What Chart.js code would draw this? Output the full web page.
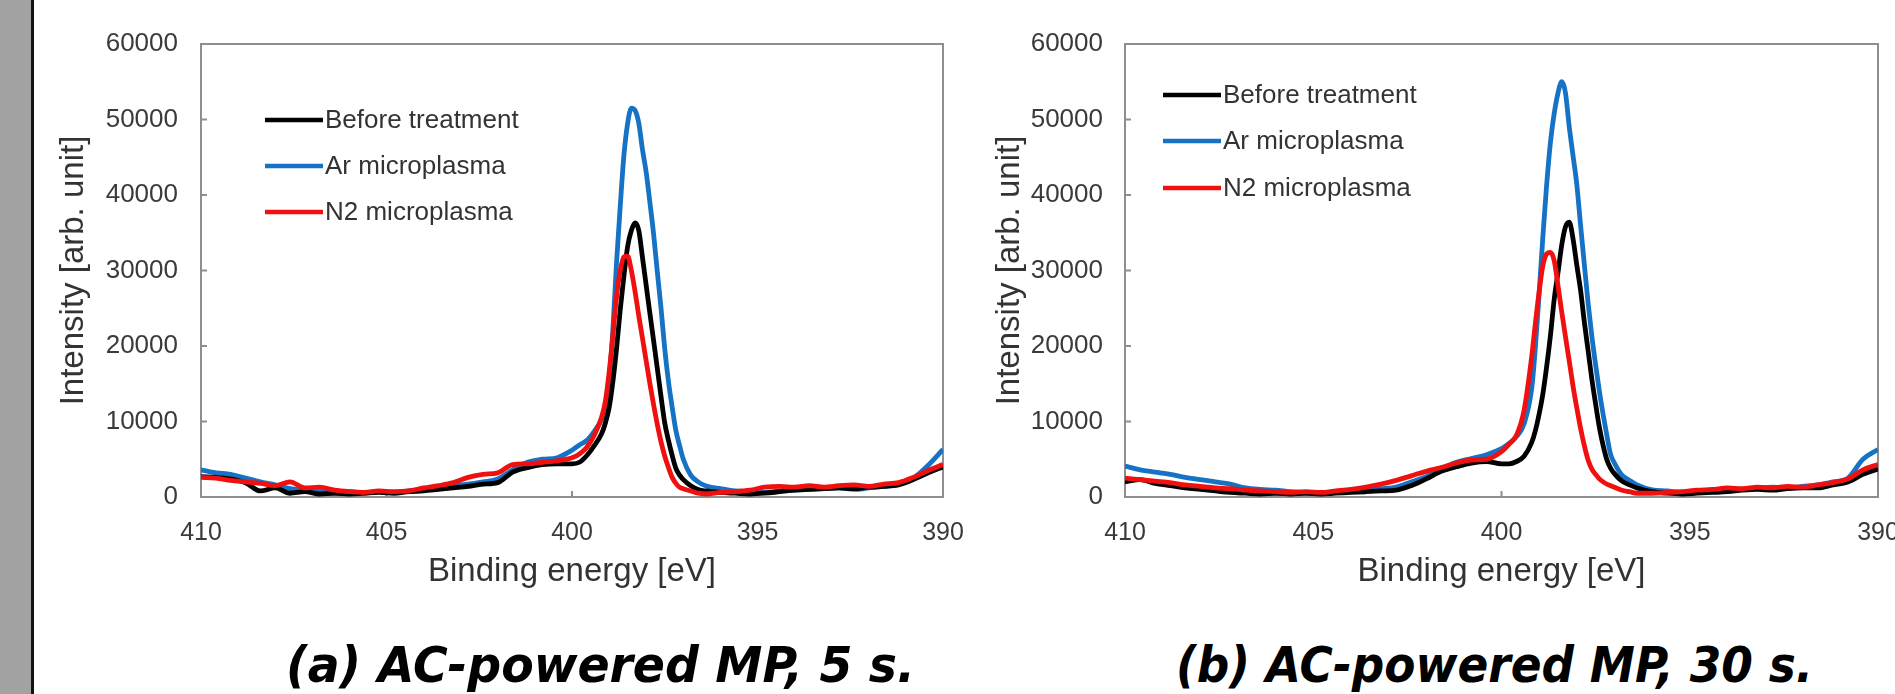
<!DOCTYPE html>
<html>
<head>
<meta charset="utf-8">
<script src="https://cdn.jsdelivr.net/npm/chart.js@4.4.1/dist/chart.umd.min.js"></script>
<style>
html,body{margin:0;padding:0;width:1895px;height:694px;overflow:hidden;background:#fff;}
#strip{position:absolute;left:0;top:0;width:31px;height:694px;background:#a2a2a2;}
#edge{position:absolute;left:31px;top:0;width:3px;height:694px;background:#111;}
canvas{position:absolute;top:0;}
.cap{position:absolute;top:640px;font-family:"DejaVu Sans",sans-serif;font-weight:bold;font-style:italic;font-size:50px;line-height:50px;white-space:nowrap;color:#000;transform-origin:0 0;}
</style>
</head>
<body>
<div id="strip"></div><div id="edge"></div>
<canvas id="chartA" width="936" height="600" style="left:34px"></canvas>
<canvas id="chartB" width="947" height="600" style="left:958px"></canvas>
<div class="cap" id="capA"></div>
<div class="cap" id="capB"></div>
<script>
// ---------- data ----------
const seriesNames = ['Before treatment', 'Ar microplasma', 'N2 microplasma'];
const xTickValues = [410, 405, 400, 395, 390];
const yTickValues = [0, 10000, 20000, 30000, 40000, 50000, 60000];
const xTitle = 'Binding energy [eV]';
const yTitle = 'Intensity [arb. unit]';
const captions = ['(a) AC-powered MP, 5 s.', '(b) AC-powered MP, 30 s.'];

const energy = [410.0,409.6,409.2,408.8,408.4,408.0,407.6,407.2,406.8,406.4,406.0,405.6,405.2,404.8,404.4,404.0,403.6,403.2,402.8,402.4,402.0,401.6,401.2,400.8,400.4,
  400.0,399.8,399.6,399.4,399.2,
  399.1,399.0,398.9,398.8,398.7,398.6,398.5,398.4,398.3,398.2,398.1,398.0,397.9,397.8,397.7,397.6,397.5,397.4,397.3,397.2,397.1,397.0,
  396.8,396.6,396.4,
  396.0,395.6,395.2,394.8,394.4,394.0,393.6,393.2,392.8,392.4,392.0,391.6,391.2,390.8,390.4,390.0];

// (a) 5 s
const beforeA = [2700,2600,2400,1900,800,1200,500,700,400,500,400,500,600,500,700,800,1000,1200,1400,1700,1900,3300,3900,4300,4400,
  4400,4600,5500,6800,8400,
  9800,11800,15200,19600,24800,29300,33200,35300,36300,35300,31700,28000,24300,20700,17000,13300,9800,7500,5500,3800,2900,2300,
  1500,1000,800,
  600,500,400,500,700,900,1000,1100,1200,1100,1300,1400,1600,2300,3200,4000];
const arA = [3600,3200,3000,2500,2000,1600,1100,900,700,600,700,500,700,600,800,1000,1300,1500,1700,2000,2400,3600,4600,5000,5200,
  6200,6900,7500,8700,10300,
  11800,15500,22000,31000,38500,45300,49500,51500,51200,49500,46000,43000,39000,34800,29800,25000,19600,15300,11900,8800,6800,5000,
  2900,2000,1500,
  1100,800,700,600,800,900,1000,1100,1200,1000,1200,1400,1700,2500,4200,6300];
const n2A = [2600,2500,2200,2000,1800,1500,2000,1200,1300,900,700,600,800,700,800,1200,1500,1900,2600,3000,3200,4300,4400,4600,4800,
  5200,5700,6600,8200,10600,
  12700,16500,21300,26500,30000,31800,31900,30000,27200,24000,21000,18000,15000,12200,9600,7300,5400,3900,2600,1800,1300,1100,
  800,500,400,
  600,700,900,1300,1400,1300,1500,1300,1500,1600,1400,1700,1900,2600,3500,4300];

// (b) 30 s
const beforeB = [2000,2300,1800,1500,1200,1000,800,600,500,400,500,400,500,400,500,600,700,800,900,1500,2400,3400,4000,4500,4700,
  4400,4400,4700,5400,7200,
  8800,11000,13700,17300,21400,26200,29700,33400,35800,36400,34200,30700,27400,23200,19400,15600,12300,9200,6800,4900,3800,3100,
  2100,1600,1200,
  700,500,400,500,600,700,900,1000,900,1100,1200,1200,1600,2000,3000,3700];
const arB = [4100,3600,3300,3000,2600,2300,2000,1700,1200,1000,900,700,600,600,700,800,900,1100,1300,2000,2700,3700,4600,5100,5600,
  6400,7100,8000,9700,14300,
  19800,27000,34600,41400,47000,50800,53500,55000,53500,49000,45200,41400,36000,30800,25700,21300,17500,14000,10900,8100,5600,4500,
  2900,2200,1600,
  950,800,600,700,900,800,1000,1100,1300,1200,1400,1600,2000,2500,5000,6300];
const n2B = [2500,2300,2100,1900,1600,1400,1200,1100,900,800,700,600,700,600,800,1000,1300,1700,2200,2800,3400,3900,4500,4900,5000,
  6000,7000,8200,11500,18500,
  23000,27200,30700,32200,32400,31300,28000,24500,21200,18000,14700,11800,9100,6800,4900,3700,3000,2400,2000,1700,1500,1300,
  900,700,500,
  500,600,700,900,1000,1200,1100,1300,1200,1400,1300,1600,1900,2400,3600,4300];

const seriesColors = ['#000000', '#1672c4', '#f01010'];

// ---------- drawing ----------
Chart.defaults.font.family = '"Liberation Sans", Arial, sans-serif';
Chart.defaults.color = '#3a3a3a';

const frameAndTicks = {
  id: 'frameAndTicks',
  beforeDatasetsDraw(chart) {
    const {ctx, chartArea: a, scales: {x, y}} = chart;
    ctx.save();
    ctx.strokeStyle = '#8e8e8e';
    ctx.lineWidth = 2;
    ctx.strokeRect(a.left, a.top, a.right - a.left, a.bottom - a.top);
    ctx.beginPath();
    y.ticks.forEach(t => {
      const py = y.getPixelForValue(t.value);
      if (py > a.top + 1 && py < a.bottom - 1) { ctx.moveTo(a.left, py); ctx.lineTo(a.left + 6, py); }
    });
    x.ticks.forEach(t => {
      const px = x.getPixelForValue(t.value);
      if (px > a.left + 1 && px < a.right - 1) { ctx.moveTo(px, a.bottom); ctx.lineTo(px, a.bottom - 6); }
    });
    ctx.stroke();
    ctx.restore();
  }
};

const lineLegend = {
  id: 'lineLegend',
  afterDatasetsDraw(chart, args, opts) {
    const ctx = chart.ctx;
    ctx.save();
    ctx.font = '26px "Liberation Sans", Arial, sans-serif';
    ctx.textBaseline = 'middle';
    chart.data.datasets.forEach((ds, i) => {
      const y = opts.ys[i];
      ctx.strokeStyle = ds.borderColor;
      ctx.lineWidth = 4.5;
      ctx.beginPath();
      ctx.moveTo(opts.x, y);
      ctx.lineTo(opts.x + opts.len, y);
      ctx.stroke();
      ctx.fillStyle = '#333333';
      ctx.fillText(ds.label, opts.x + opts.len + 2, y + 1);
    });
    ctx.restore();
  }
};

function pts(vals) { return energy.map((e, i) => ({x: e, y: vals[i]})); }

function makeChart(id, before, ar, n2, cfg) {
  const seriesVals = [before, ar, n2];
  const drawOrder = [1, 2, 0];
  return new Chart(document.getElementById(id), {
    type: 'line',
    data: {
      datasets: seriesVals.map((v, i) => ({
        label: seriesNames[i],
        data: pts(v),
        borderColor: seriesColors[i],
        backgroundColor: seriesColors[i],
        borderWidth: 4.8,
        pointRadius: 0,
        cubicInterpolationMode: 'monotone',
        order: drawOrder[i]
      }))
    },
    options: {
      responsive: false,
      animation: false,
      devicePixelRatio: 1,
      layout: {padding: {left: 0, top: 44, right: 27, bottom: 0}},
      plugins: {
        legend: {display: false},
        tooltip: {enabled: false},
        lineLegend: {x: cfg.legendX, ys: cfg.legendYs, len: 58}
      },
      scales: {
        x: {
          type: 'linear',
          reverse: true,
          min: 390, max: 410,
          afterBuildTicks: s => { s.ticks = xTickValues.map(v => ({value: v})); },
          afterFit: s => { s.height = 103; s.paddingLeft = 0; s.paddingRight = 0; },
          grid: {display: false, drawTicks: false},
          border: {display: false},
          ticks: {font: {size: 25}, padding: 21, maxRotation: 0, autoSkip: false, callback: v => String(v)},
          title: {display: true, text: xTitle, font: {size: 33}, padding: {top: 0, bottom: 8}, color: '#333333'}
        },
        y: {
          type: 'linear',
          min: 0, max: 60000,
          afterBuildTicks: s => { s.ticks = yTickValues.map(v => ({value: v})); },
          afterFit: s => { s.width = 167; s.paddingTop = 0; s.paddingBottom = 0; },
          grid: {display: false, drawTicks: false},
          border: {display: false},
          ticks: {font: {size: 26}, padding: cfg.yTickPad, autoSkip: false, callback: v => String(v)},
          title: {display: true, text: yTitle, font: {size: 33}, padding: {top: cfg.yTitlePad, bottom: 0}, color: '#333333'}
        }
      }
    },
    plugins: [frameAndTicks, lineLegend]
  });
}

makeChart('chartA', beforeA, arA, n2A, {legendX: 231, legendYs: [120, 166, 212], yTitlePad: 20, yTickPad: 23});
makeChart('chartB', beforeB, arB, n2B, {legendX: 205, legendYs: [95, 141, 188], yTitlePad: 32, yTickPad: 22});

// captions
function placeCaption(id, text, left, width) {
  const el = document.getElementById(id);
  el.textContent = text;
  el.style.left = left + 'px';
  const w = el.getBoundingClientRect().width;
  el.style.transform = 'scaleX(' + (width / w) + ')';
}
placeCaption('capA', captions[0], 286, 629);
placeCaption('capB', captions[1], 1176, 637);
</script>
</body>
</html>
